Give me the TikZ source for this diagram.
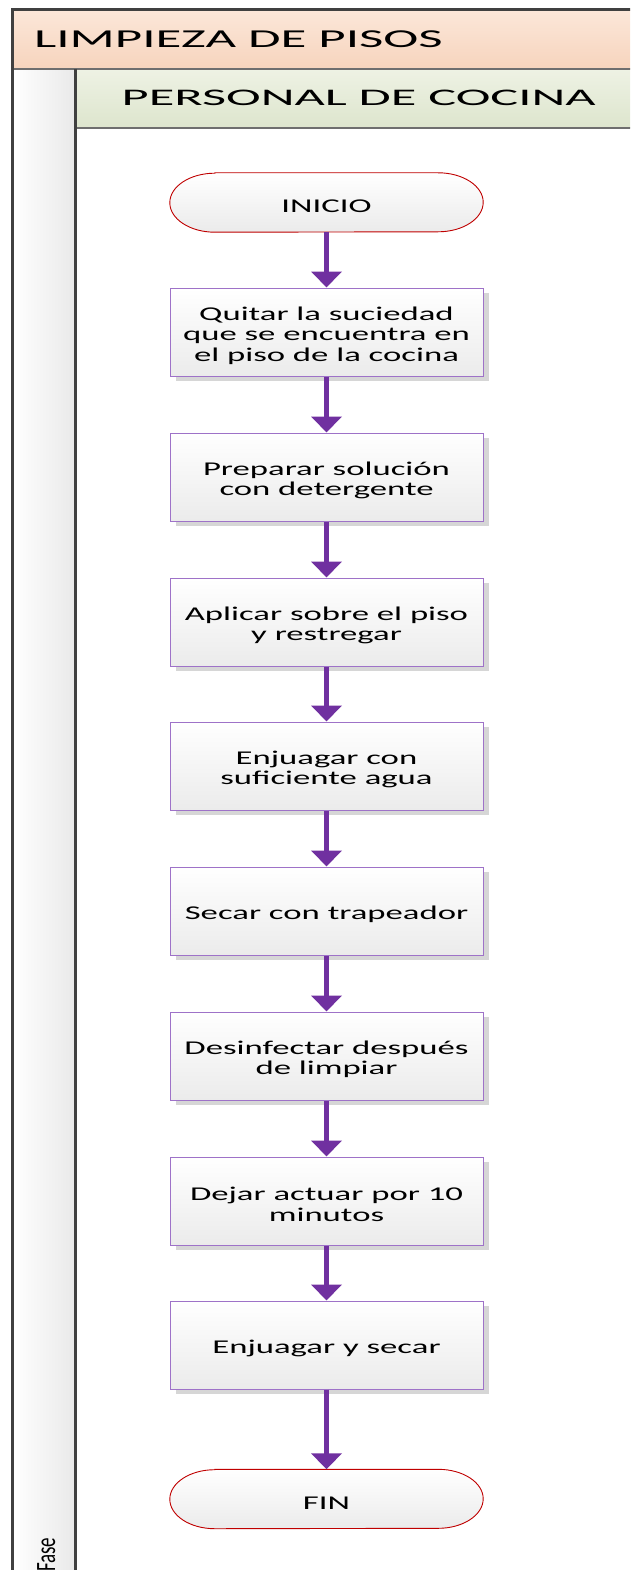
\documentclass[tikz,border=0pt]{standalone}
\usepackage{fontspec}
\usetikzlibrary{arrows.meta,shadows}

\newfontfamily\hdrfont[FakeStretch=2.05]{Carlito}
\newfontfamily\lanefont[FakeStretch=2.2]{Carlito}
\newfontfamily\boxfont[FakeStretch=1.78]{Carlito}
\newfontfamily\fasefont{Carlito}
\newcommand\boxtext{\boxfont\fontsize{19.5}{20.5}\selectfont}
% taller first line so the text block sits a little lower in its box
\newcommand\toppad{\rule{0pt}{20.5pt}}

\definecolor{framegray}{HTML}{404040}
\definecolor{thingray}{HTML}{6E6E6E}
\definecolor{flowpurple}{HTML}{7030A0}
\definecolor{boxedge}{HTML}{9E72C8}
\definecolor{termedge}{HTML}{C00000}
\definecolor{shadowgray}{HTML}{D6D6D6}
\definecolor{hdrtop}{HTML}{FCE7D9}
\definecolor{hdrbot}{HTML}{F6D4BD}
\definecolor{lanetop}{HTML}{EEF2E4}
\definecolor{lanebot}{HTML}{DDE5CD}
\definecolor{boxbot}{HTML}{EBEBEB}
\definecolor{stripright}{HTML}{E9E9E9}

\pgfdeclarelayer{background}
\pgfsetlayers{background,main}

% terminal (start/end) outline: straight top and bottom, elliptic ends
\newcommand\termshape[1]{%
  \begin{pgfonlayer}{background}
    \fill[shadowgray,shift={(6pt,-5pt)}]
      ([xshift=45pt]#1.north west) -- ([xshift=-45pt]#1.north east)
      arc[start angle=90,end angle=-90,x radius=45pt,y radius=29.5pt]
      -- ([xshift=45pt]#1.south west)
      arc[start angle=270,end angle=90,x radius=45pt,y radius=29.5pt] -- cycle;
    \shade[top color=white,bottom color=boxbot,draw=termedge,line width=0.9pt]
      ([xshift=45pt]#1.north west) -- ([xshift=-45pt]#1.north east)
      arc[start angle=90,end angle=-90,x radius=45pt,y radius=29.5pt]
      -- ([xshift=45pt]#1.south west)
      arc[start angle=270,end angle=90,x radius=45pt,y radius=29.5pt] -- cycle;
  \end{pgfonlayer}}

\begin{document}
\begin{tikzpicture}[x=1pt,y=-1pt,
  stepbox/.style={draw=boxedge,line width=1pt,top color=white,bottom color=boxbot,
    minimum width=313pt,minimum height=88pt,inner sep=0pt,align=center,font=\boxtext,
    drop shadow={shadow xshift=6pt,shadow yshift=-5pt,fill=shadowgray,opacity=1}},
  termbox/.style={minimum width=313pt,minimum height=59pt,inner sep=0pt,font=\boxtext,
    execute at begin node=\toppad},
  flow/.style={draw=flowpurple,line width=5pt,-{Triangle[width=30pt,length=16pt]}},
  frame/.style={draw=framegray,line width=3pt},
  thinrule/.style={draw=thingray,line width=1.5pt}]

\useasboundingbox (0,0) rectangle (630,1570);
\clip (0,0) rectangle (630,1570);

% pool header, lane header and phase strip
\shade[top color=hdrtop,bottom color=hdrbot] (12,10) rectangle (640,69);
\shade[top color=lanetop,bottom color=lanebot] (76,69) rectangle (640,128);
\shade[left color=white,right color=stripright] (12,69) rectangle (76,1580);

\draw[thinrule] (12,69) -- (640,69);
\draw[thinrule] (76,128) -- (640,128);
\draw[frame] (12.5,1580) -- (12.5,10) -- (640,10);
\draw[frame] (75.7,69) -- (75.7,1580);

\node[anchor=base west,inner sep=0pt] (pool) at (34,47.3)
  {\hdrfont\fontsize{25.8}{25.8}\selectfont LIMPIEZA DE PISOS};
\node[anchor=base west,inner sep=0pt] (lane) at (121.5,106)
  {\lanefont\fontsize{23.8}{23.8}\selectfont PERSONAL DE COCINA};
\node[rotate=90,anchor=base west,inner sep=0pt] (phase) at (55,1572)
  {\scalebox{1}[1.47]{\fasefont\fontsize{19}{19}\selectfont Fase}};

% flow steps
\node[termbox] (ini) at (326.5,202.5) {INICIO};
\node[stepbox] (s1) at (326.5,332) {\toppad Quitar la suciedad\\que se encuentra en\\el piso de la cocina};
\node[stepbox] (s2) at (326.5,477) {\toppad Preparar solución\\con detergente};
\node[stepbox] (s3) at (326.5,622) {\toppad Aplicar sobre el piso\\y restregar};
\node[stepbox] (s4) at (326.5,766) {\toppad Enjuagar con\\suficiente agua};
\node[stepbox] (s5) at (326.5,911) {\toppad Secar con trapeador};
\node[stepbox] (s6) at (326.5,1056) {\toppad Desinfectar después\\de limpiar};
\node[stepbox] (s7) at (326.5,1201) {\toppad Dejar actuar por 10\\minutos};
\node[stepbox] (s8) at (326.5,1345) {\toppad Enjuagar y secar};
\node[termbox] (fin) at (326.5,1499) {FIN};

\termshape{ini}
\termshape{fin}

\draw[flow] (ini.south) -- (s1.north);
\draw[flow] (s1.south) -- (s2.north);
\draw[flow] (s2.south) -- (s3.north);
\draw[flow] (s3.south) -- (s4.north);
\draw[flow] (s4.south) -- (s5.north);
\draw[flow] (s5.south) -- (s6.north);
\draw[flow] (s6.south) -- (s7.north);
\draw[flow] (s7.south) -- (s8.north);
\draw[flow] (s8.south) -- (fin.north);
\end{tikzpicture}
\end{document}
